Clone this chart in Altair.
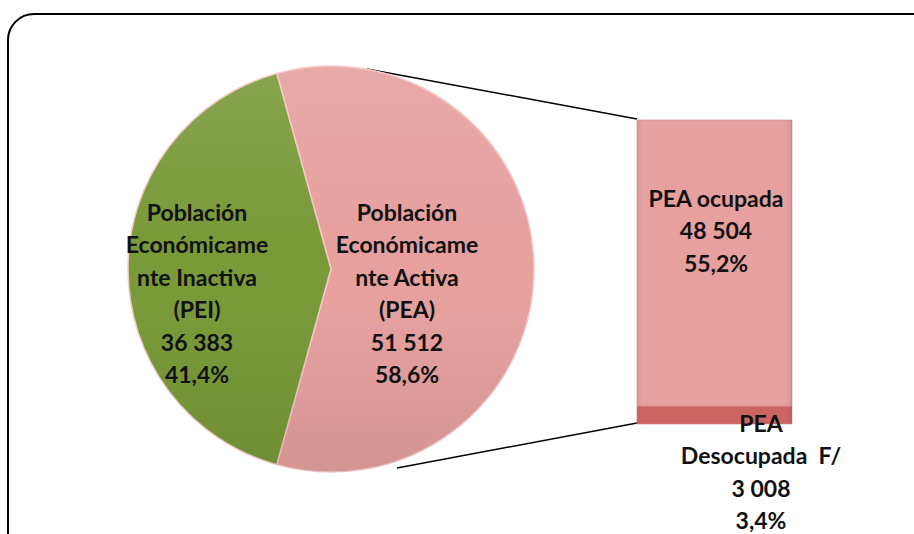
import math
import altair as alt
import pandas as pd

# ---------------- data ----------------
pie_keys = ["PEA", "PEI"]
pie_names = ["Población\nEconómicame\nnte Activa\n(PEA)",
             "Población\nEconómicame\nnte Inactiva\n(PEI)"]
pie_values = [51512, 36383]
pie_pct = ["58,6%", "41,4%"]

bar_keys = ["ocupada", "desocupada"]
bar_names = ["PEA ocupada", "PEA\nDesocupada\u00a0 F/"]
bar_values = [48504, 3008]
bar_pct = ["55,2%", "3,4%"]


def fmt(v):
    return f"{v:,}".replace(",", " ")


pie_df = pd.DataFrame({
    "key": pie_keys,
    "value": pie_values,
    "ord": [0, 1],
    "label": [f"{n}\n{fmt(v)}\n{p}" for n, v, p in zip(pie_names, pie_values, pie_pct)],
})
bar_df = pd.DataFrame({
    "key": bar_keys,
    "value": bar_values,
    "ord": [1, 0],
    "label": [f"{n}\n{fmt(v)}\n{p}" for n, v, p in zip(bar_names, bar_values, bar_pct)],
})

# ---------------- layout (pixels) ----------------
W, H = 914, 534
CX, CY, R = 331, 269, 203
share_pea = pie_values[0] / sum(pie_values)
start = math.pi / 2 - share_pea * math.pi  # PEA slice centred on 3 o'clock
theta_range = [start, start + 2 * math.pi]
BAR_X0, BAR_X1, BAR_TOP, BAR_BOT = 637, 792, 120, 424
FONT = "Lato"

frame = alt.Chart(pd.DataFrame({"a": [0]})).mark_rect(
    fill="white", stroke="black", strokeWidth=2, cornerRadius=26
).encode(x=alt.value(8), x2=alt.value(945), y=alt.value(14), y2=alt.value(565))

pie_base = alt.Chart(pie_df).encode(
    theta=alt.Theta("value:Q", stack=True, scale=alt.Scale(range=theta_range)),
    order=alt.Order("ord:Q"),
    x=alt.value(CX), y=alt.value(CY),
)
pie = pie_base.mark_arc(radius=R, stroke="#f2c9c8", strokeWidth=1.5).encode(
    color=alt.Color("key:N", legend=None,
                    scale=alt.Scale(domain=pie_keys, range=["#E6A19F", "#7A9A3A"]))
)
pie_shade = pie_base.mark_arc(
    radius=R,
    fill=alt.Gradient(
        gradient="linear", x1=0, y1=0, x2=0, y2=1,
        stops=[alt.GradientStop(color="rgba(255,255,255,0.10)", offset=0),
               alt.GradientStop(color="rgba(255,255,255,0.0)", offset=0.4),
               alt.GradientStop(color="rgba(0,0,0,0.0)", offset=0.6),
               alt.GradientStop(color="rgba(0,0,0,0.08)", offset=1)],
    ),
)

ysc = alt.Scale(domain=[0, sum(bar_values)], range=[BAR_BOT, BAR_TOP])
bars = alt.Chart(bar_df).transform_stack(
    stack="value", groupby=[], as_=["y0", "y1"], sort=[alt.SortField("ord", order="ascending")]
).mark_rect(stroke="#c98886", strokeWidth=0.6).encode(
    y=alt.Y("y0:Q", axis=None, scale=ysc),
    y2="y1:Q",
    x=alt.value(BAR_X0), x2=alt.value(BAR_X1),
    color=alt.Color("key:N", legend=None,
                    scale=alt.Scale(domain=bar_keys, range=["#E6A19F", "#CC6462"])),
)
bar_shine = alt.Chart(bar_df).transform_stack(
    stack="value", groupby=[], as_=["y0", "y1"], sort=[alt.SortField("ord", order="ascending")]
).mark_rect(
    fill=alt.Gradient(
        gradient="linear", x1=0, y1=0, x2=1, y2=0,
        stops=[alt.GradientStop(color="rgba(0,0,0,0.06)", offset=0),
               alt.GradientStop(color="rgba(255,255,255,0.0)", offset=0.06),
               alt.GradientStop(color="rgba(255,255,255,0.0)", offset=0.94),
               alt.GradientStop(color="rgba(0,0,0,0.10)", offset=1)],
    )
).encode(
    y=alt.Y("y0:Q", axis=None, scale=ysc),
    y2="y1:Q",
    x=alt.value(BAR_X0), x2=alt.value(BAR_X1),
)

lines_df = pd.DataFrame({"a": [0]})
line_top = alt.Chart(lines_df).mark_rule(color="black", strokeWidth=1.5).encode(
    x=alt.value(367), y=alt.value(69), x2=alt.value(BAR_X0), y2=alt.value(BAR_TOP - 1))
line_bot = alt.Chart(lines_df).mark_rule(color="black", strokeWidth=1.5).encode(
    x=alt.value(397), y=alt.value(468), x2=alt.value(BAR_X0), y2=alt.value(BAR_BOT - 1))

text_style = dict(font=FONT, fontSize=23, fontWeight="bold", color="#111111",
                  align="center", baseline="middle", lineBreak="\n", lineHeight=32.4)

t_pea = alt.Chart(pie_df).transform_filter(alt.datum.key == "PEA").mark_text(**text_style).encode(
    text="label:N", x=alt.value(407), y=alt.value(214))
t_pei = alt.Chart(pie_df).transform_filter(alt.datum.key == "PEI").mark_text(**text_style).encode(
    text="label:N", x=alt.value(197), y=alt.value(214))
t_ocu = alt.Chart(bar_df).transform_filter(alt.datum.key == "ocupada").mark_text(**text_style).encode(
    text="label:N", x=alt.value(716), y=alt.value(200))
t_des = alt.Chart(bar_df).transform_filter(alt.datum.key == "desocupada").mark_text(**text_style).encode(
    text="label:N", x=alt.value(761), y=alt.value(425))

chart = alt.layer(
    frame, line_top, line_bot, pie, pie_shade, bars, bar_shine, t_pea, t_pei, t_ocu, t_des
).resolve_scale(color="independent", theta="independent").properties(
    width=W, height=H, autosize=alt.AutoSizeParams(type="none"), padding=0
).configure_view(stroke=None)

chart.save("out.html", embed_options={"renderer": "svg", "actions": False})
